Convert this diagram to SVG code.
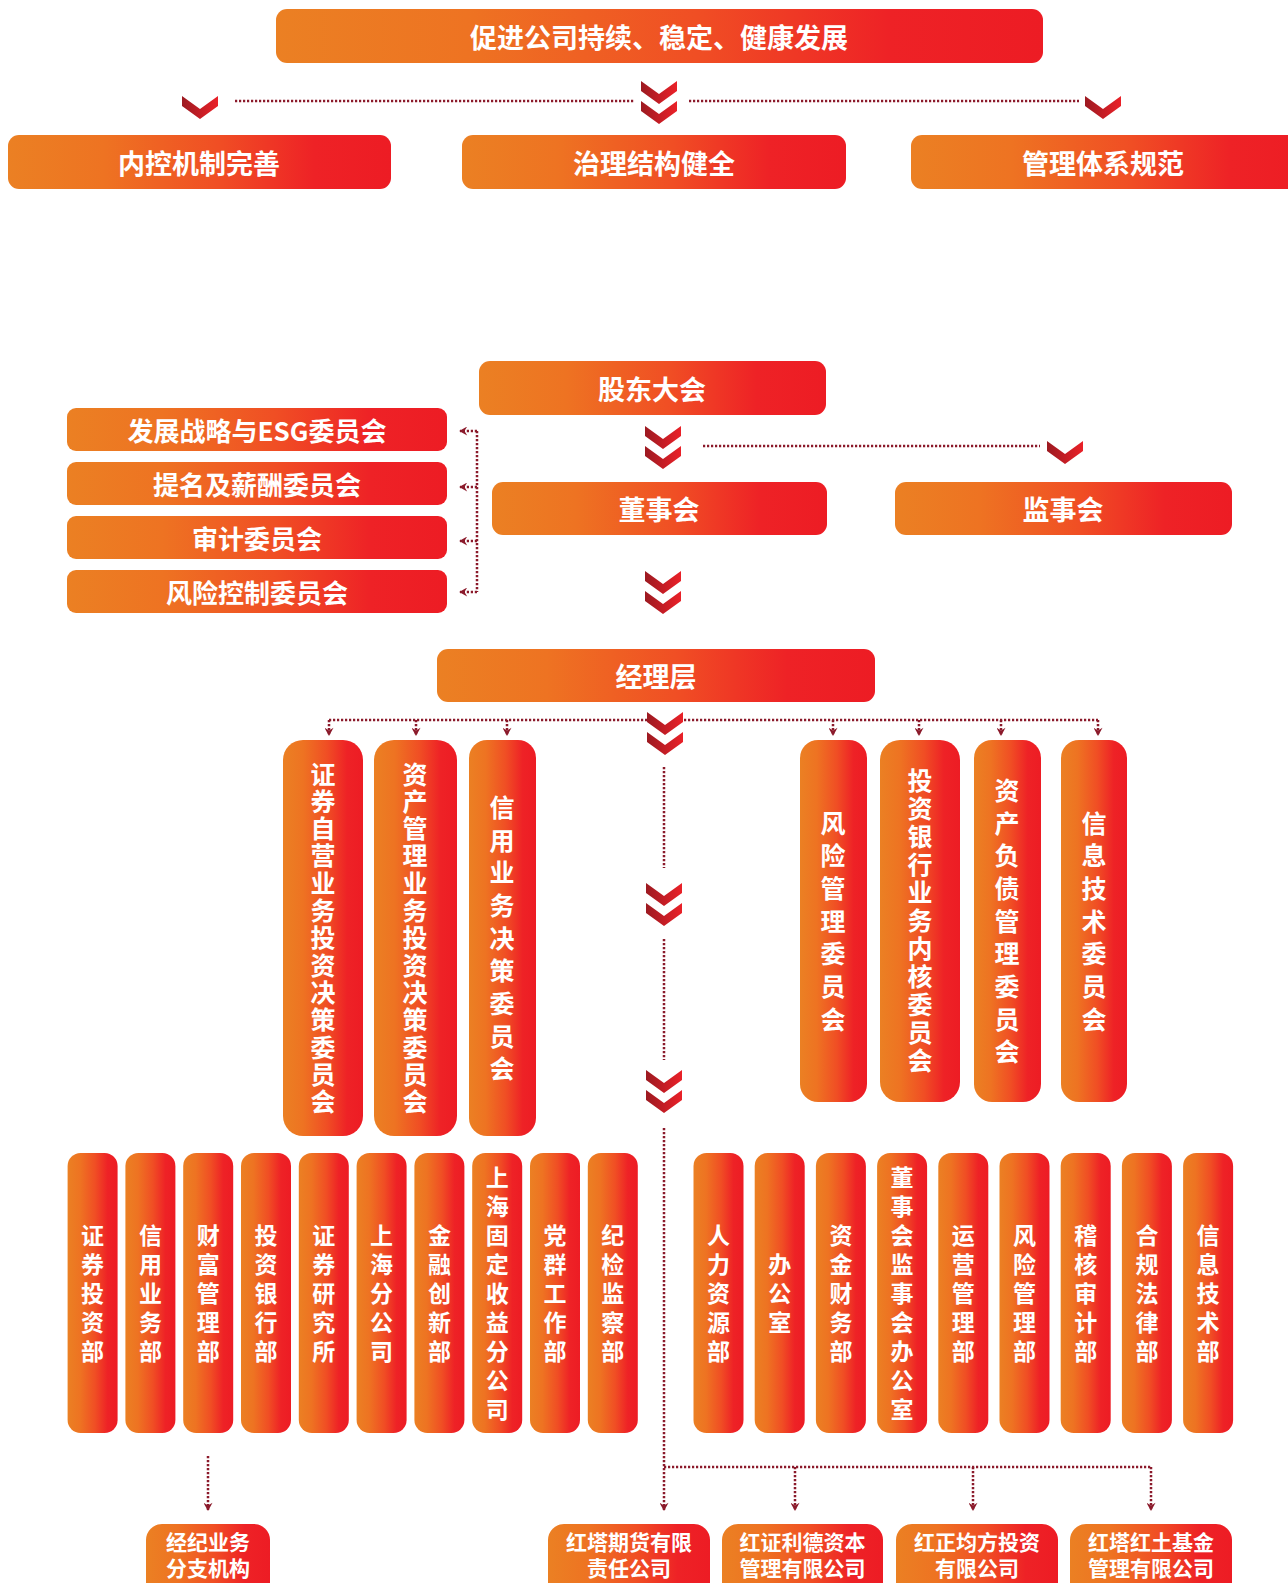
<svg xmlns="http://www.w3.org/2000/svg" xmlns:xlink="http://www.w3.org/1999/xlink" width="1288" height="1583" viewBox="0 0 1288 1583">
<defs>
<linearGradient id="bg" x1="0" y1="0" x2="1" y2="0">
<stop offset="0" stop-color="#EB8023"/>
<stop offset="0.25" stop-color="#EE7322"/>
<stop offset="0.55" stop-color="#F04E24"/>
<stop offset="0.8" stop-color="#EE2226"/>
<stop offset="1" stop-color="#ED1C24"/>
</linearGradient>
<linearGradient id="cg" x1="0" y1="0" x2="1" y2="0">
<stop offset="0" stop-color="#9C1A21"/>
<stop offset="0.5" stop-color="#C41D25"/>
<stop offset="1" stop-color="#EA2128"/>
</linearGradient>
<path id="chev" d="M-18,0 L0,13 L18,0 L18,10 L0,23 L-18,10 Z" fill="url(#cg)"/>
<g id="dchev"><use xlink:href="#chev"/><use xlink:href="#chev" y="20"/></g>
<marker id="ah" viewBox="0 0 10 10" refX="9" refY="5" markerWidth="9" markerHeight="9" orient="auto" markerUnits="userSpaceOnUse">
<path d="M1,0 L4,5 L1,10 L10,5 Z" fill="#8B1A2B"/>
</marker>
</defs>
<style>
.b{fill:url(#bg)}
.t{fill:#fff;font-family:"Noto Sans CJK SC","Noto Sans",sans-serif;font-weight:700;text-anchor:middle;dominant-baseline:central}
.v{writing-mode:vertical-rl;dominant-baseline:auto}
.h1{font-size:27px}
.h2{font-size:26px}
.v1{font-size:25px}
.v2{font-size:23px}
.s{font-size:21px}
.d{fill:none;stroke:#8B1A2B;stroke-width:2.5;stroke-dasharray:2.2 1.8}
</style>
<rect width="1288" height="1583" fill="#fff"/>

<g id="connectors">
<path class="d" d="M235,101 H634 M689,101 H1079"/>
<path class="d" d="M703,446 H1040"/>
<path class="d" d="M477,431 V592"/>
<path class="d" d="M477,431 H460" marker-end="url(#ah)"/>
<path class="d" d="M477,487 H460" marker-end="url(#ah)"/>
<path class="d" d="M477,541 H460" marker-end="url(#ah)"/>
<path class="d" d="M477,592 H460" marker-end="url(#ah)"/>
<path class="d" d="M329,720 H650 M680,720 H1098"/>
<path class="d" d="M329,720 V735" marker-end="url(#ah)"/>
<path class="d" d="M416,720 V735" marker-end="url(#ah)"/>
<path class="d" d="M507,720 V735" marker-end="url(#ah)"/>
<path class="d" d="M833,720 V735" marker-end="url(#ah)"/>
<path class="d" d="M919,720 V735" marker-end="url(#ah)"/>
<path class="d" d="M1001,720 V735" marker-end="url(#ah)"/>
<path class="d" d="M1098,720 V735" marker-end="url(#ah)"/>
<path class="d" d="M664,767 V868 M664,939 V1060"/>
<path class="d" d="M664,1128 V1510" marker-end="url(#ah)"/>
<path class="d" d="M664,1467 H1151"/>
<path class="d" d="M795,1467 V1510" marker-end="url(#ah)"/>
<path class="d" d="M973,1467 V1510" marker-end="url(#ah)"/>
<path class="d" d="M1151,1467 V1510" marker-end="url(#ah)"/>
<path class="d" d="M208,1456 V1510" marker-end="url(#ah)"/>
<use xlink:href="#chev" x="200" y="96"/>
<use xlink:href="#dchev" x="659" y="81"/>
<use xlink:href="#chev" x="1103" y="96"/>
<use xlink:href="#dchev" x="663" y="426"/>
<use xlink:href="#chev" x="1065" y="441"/>
<use xlink:href="#dchev" x="663" y="571"/>
<use xlink:href="#dchev" x="665" y="712"/>
<use xlink:href="#dchev" x="664" y="883"/>
<use xlink:href="#dchev" x="664" y="1070"/>
</g>

<g id="n-top"><rect class="b" x="276" y="9" width="767" height="54" rx="11"/><text class="t h1" x="659" y="36">促进公司持续、稳定、健康发展</text></g>
<g id="n-nk"><rect class="b" x="8" y="135" width="383" height="54" rx="11"/><text class="t h1" x="199" y="162">内控机制完善</text></g>
<g id="n-zl"><rect class="b" x="462" y="135" width="384" height="54" rx="11"/><text class="t h1" x="654" y="162">治理结构健全</text></g>
<g id="n-gl"><rect class="b" x="911" y="135" width="400" height="54" rx="11"/><text class="t h1" x="1103" y="162">管理体系规范</text></g>

<g id="n-gd"><rect class="b" x="479" y="361" width="347" height="54" rx="11"/><text class="t h1" x="652" y="388">股东大会</text></g>
<g id="n-ds"><rect class="b" x="492" y="482" width="335" height="53" rx="11"/><text class="t h1" x="659" y="508">董事会</text></g>
<g id="n-js"><rect class="b" x="895" y="482" width="337" height="53" rx="11"/><text class="t h1" x="1063" y="508">监事会</text></g>

<g id="n-esg"><rect class="b" x="67" y="408" width="380" height="43" rx="9"/><text class="t h2" x="257" y="429">发展战略与ESG委员会</text></g>
<g id="n-tm"><rect class="b" x="67" y="462" width="380" height="43" rx="9"/><text class="t h2" x="257" y="483">提名及薪酬委员会</text></g>
<g id="n-sj"><rect class="b" x="67" y="516" width="380" height="43" rx="9"/><text class="t h2" x="257" y="537">审计委员会</text></g>
<g id="n-fk"><rect class="b" x="67" y="570" width="380" height="43" rx="9"/><text class="t h2" x="257" y="591">风险控制委员会</text></g>

<g id="n-jl"><rect class="b" x="437" y="649" width="438" height="53" rx="11"/><text class="t h1" x="656" y="675">经理层</text></g>

<g id="n-c1"><rect class="b" x="283" y="740" width="80" height="396" rx="20"/><text class="t v v1" x="323" y="939" letter-spacing="2.3">证券自营业务投资决策委员会</text></g>
<g id="n-c2"><rect class="b" x="374" y="740" width="83" height="396" rx="20"/><text class="t v v1" x="415" y="939" letter-spacing="2.3">资产管理业务投资决策委员会</text></g>
<g id="n-c3"><rect class="b" x="469" y="740" width="67" height="396" rx="18"/><text class="t v v1" x="502" y="942" letter-spacing="7.7">信用业务决策委员会</text></g>
<g id="n-c4"><rect class="b" x="800" y="740" width="67" height="362" rx="18"/><text class="t v v1" x="833" y="925" letter-spacing="7.7">风险管理委员会</text></g>
<g id="n-c5"><rect class="b" x="880" y="740" width="80" height="362" rx="20"/><text class="t v v1" x="920" y="922" letter-spacing="3">投资银行业务内核委员会</text></g>
<g id="n-c6"><rect class="b" x="974" y="740" width="67" height="362" rx="18"/><text class="t v v1" x="1007" y="925" letter-spacing="7.7">资产负债管理委员会</text></g>
<g id="n-c7"><rect class="b" x="1061" y="740" width="66" height="362" rx="18"/><text class="t v v1" x="1094" y="925" letter-spacing="7.7">信息技术委员会</text></g>

<g id="n-d1"><rect class="b" x="67.6" y="1153" width="50" height="280" rx="13"/><text class="t v v2" x="92.6" y="1296" letter-spacing="6">证券投资部</text></g>
<g id="n-d2"><rect class="b" x="125.4" y="1153" width="50" height="280" rx="13"/><text class="t v v2" x="150.4" y="1296" letter-spacing="6">信用业务部</text></g>
<g id="n-d3"><rect class="b" x="183.2" y="1153" width="50" height="280" rx="13"/><text class="t v v2" x="208.2" y="1296" letter-spacing="6">财富管理部</text></g>
<g id="n-d4"><rect class="b" x="241" y="1153" width="50" height="280" rx="13"/><text class="t v v2" x="266" y="1296" letter-spacing="6">投资银行部</text></g>
<g id="n-d5"><rect class="b" x="298.8" y="1153" width="50" height="280" rx="13"/><text class="t v v2" x="323.8" y="1296" letter-spacing="6">证券研究所</text></g>
<g id="n-d6"><rect class="b" x="356.6" y="1153" width="50" height="280" rx="13"/><text class="t v v2" x="381.6" y="1296" letter-spacing="6">上海分公司</text></g>
<g id="n-d7"><rect class="b" x="414.4" y="1153" width="50" height="280" rx="13"/><text class="t v v2" x="439.4" y="1296" letter-spacing="6">金融创新部</text></g>
<g id="n-d8"><rect class="b" x="472.2" y="1153" width="50" height="280" rx="13"/><text class="t v v2" x="497.2" y="1296" letter-spacing="6">上海固定收益分公司</text></g>
<g id="n-d9"><rect class="b" x="530" y="1153" width="50" height="280" rx="13"/><text class="t v v2" x="555" y="1296" letter-spacing="6">党群工作部</text></g>
<g id="n-d10"><rect class="b" x="587.8" y="1153" width="50" height="280" rx="13"/><text class="t v v2" x="612.8" y="1296" letter-spacing="6">纪检监察部</text></g>

<g id="n-r1"><rect class="b" x="693.5" y="1153" width="50" height="280" rx="13"/><text class="t v v2" x="718.5" y="1296" letter-spacing="6">人力资源部</text></g>
<g id="n-r2"><rect class="b" x="754.7" y="1153" width="50" height="280" rx="13"/><text class="t v v2" x="779.7" y="1296" letter-spacing="6">办公室</text></g>
<g id="n-r3"><rect class="b" x="815.9" y="1153" width="50" height="280" rx="13"/><text class="t v v2" x="840.9" y="1296" letter-spacing="6">资金财务部</text></g>
<g id="n-r4"><rect class="b" x="877.1" y="1153" width="50" height="280" rx="13"/><text class="t v v2" x="902.1" y="1296" letter-spacing="6">董事会监事会办公室</text></g>
<g id="n-r5"><rect class="b" x="938.3" y="1153" width="50" height="280" rx="13"/><text class="t v v2" x="963.3" y="1296" letter-spacing="6">运营管理部</text></g>
<g id="n-r6"><rect class="b" x="999.5" y="1153" width="50" height="280" rx="13"/><text class="t v v2" x="1024.5" y="1296" letter-spacing="6">风险管理部</text></g>
<g id="n-r7"><rect class="b" x="1060.7" y="1153" width="50" height="280" rx="13"/><text class="t v v2" x="1085.7" y="1296" letter-spacing="6">稽核审计部</text></g>
<g id="n-r8"><rect class="b" x="1121.9" y="1153" width="50" height="280" rx="13"/><text class="t v v2" x="1146.9" y="1296" letter-spacing="6">合规法律部</text></g>
<g id="n-r9"><rect class="b" x="1183.1" y="1153" width="50" height="280" rx="13"/><text class="t v v2" x="1208.1" y="1296" letter-spacing="6">信息技术部</text></g>

<g id="n-b1"><rect class="b" x="146" y="1524" width="124" height="80" rx="16"/><text class="t s"><tspan x="208" y="1541">经纪业务</tspan><tspan x="208" y="1567">分支机构</tspan></text></g>
<g id="n-b2"><rect class="b" x="548" y="1524" width="162" height="80" rx="16"/><text class="t s"><tspan x="629" y="1541">红塔期货有限</tspan><tspan x="629" y="1567">责任公司</tspan></text></g>
<g id="n-b3"><rect class="b" x="722" y="1524" width="161" height="80" rx="16"/><text class="t s"><tspan x="802.5" y="1541">红证利德资本</tspan><tspan x="802.5" y="1567">管理有限公司</tspan></text></g>
<g id="n-b4"><rect class="b" x="896" y="1524" width="162" height="80" rx="16"/><text class="t s"><tspan x="977" y="1541">红正均方投资</tspan><tspan x="977" y="1567">有限公司</tspan></text></g>
<g id="n-b5"><rect class="b" x="1070" y="1524" width="162" height="80" rx="16"/><text class="t s"><tspan x="1151" y="1541">红塔红土基金</tspan><tspan x="1151" y="1567">管理有限公司</tspan></text></g>
</svg>
